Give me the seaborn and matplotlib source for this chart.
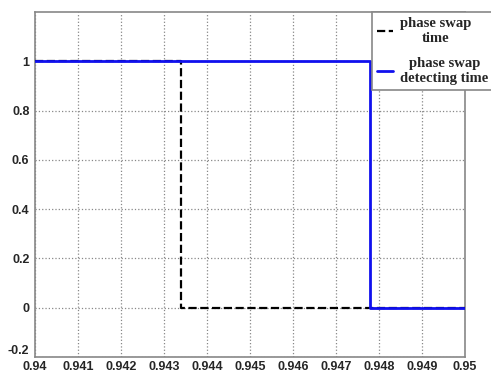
import matplotlib
matplotlib.use('Agg')
import matplotlib.pyplot as plt
import seaborn as sns

# step signals (time in s, state 0/1)
swap_time = [0.94, 0.9434, 0.9434, 0.95]
swap_state = [1, 1, 0, 0]
detect_time = [0.94, 0.9478, 0.9478, 0.95]
detect_state = [1, 1, 0, 0]

x_ticks = [0.94, 0.941, 0.942, 0.943, 0.944, 0.945, 0.946, 0.947, 0.948, 0.949, 0.95]
x_labels = ['0.94', '0.941', '0.942', '0.943', '0.944', '0.945', '0.946', '0.947', '0.948', '0.949', '0.95']
y_ticks = [-0.2, 0, 0.2, 0.4, 0.6, 0.8, 1]
y_labels = ['-0.2', '0', '0.2', '0.4', '0.6', '0.8', '1']

sns.set_style("white")
plt.rcParams['font.family'] = ['Liberation Sans', 'DejaVu Sans']

fig = plt.figure(figsize=(4.91, 3.74), dpi=100)
ax = fig.add_axes([35 / 491, 1 - 357 / 374, 430 / 491, 345 / 374])

sns.lineplot(x=swap_time, y=swap_state, sort=False, estimator=None, errorbar=None,
             color='black', linestyle='--', linewidth=1.6, zorder=3,
             label='phase swap\ntime', ax=ax)
sns.lineplot(x=detect_time, y=detect_state, sort=False, estimator=None, errorbar=None,
             color='#1010ee', linewidth=2.0, zorder=4, label='phase swap\ndetecting time', ax=ax)

ax.set_xlim(0.94, 0.95)
ax.set_ylim(-0.2, 1.2)
ax.set_xticks(x_ticks)
ax.set_xticklabels(x_labels, fontweight='bold', fontsize=9)
ax.set_yticks(y_ticks)
ax.set_yticklabels(y_labels, fontweight='bold', fontsize=9)
ax.tick_params(axis='x', length=0, pad=3)
ax.tick_params(axis='y', length=0, pad=4)
# lowest y label sits just above the x labels, as in the original
ax.get_yticklabels()[0].set_va('bottom')
ax.grid(True, linestyle=':', color='#888888', linewidth=0.9)
for s in ax.spines.values():
    s.set_color('#888888')
    s.set_linewidth(1.2)

handles, labels = ax.get_legend_handles_labels()
ax.get_legend().remove()
leg = fig.legend(handles, labels, loc='upper right', bbox_to_anchor=(1.005, 1 - 12 / 374),
                 frameon=True, fancybox=False, edgecolor='#888888', framealpha=1,
                 prop={'family': 'Liberation Serif', 'weight': 'bold', 'size': 10.5},
                 handlelength=1.1, borderpad=0.35, labelspacing=0.8, handletextpad=0.5,
                 borderaxespad=0)
for t in leg.get_texts():
    t.set_multialignment('center')
leg.get_frame().set_linewidth(1.2)

fig.savefig('out.png', dpi=100)
